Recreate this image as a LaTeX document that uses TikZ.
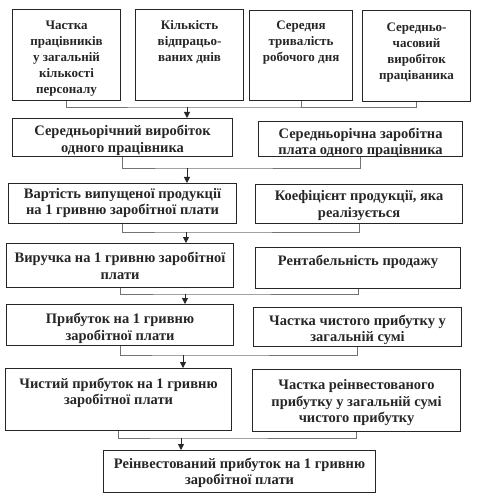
\documentclass[tikz,border=0pt]{standalone}
\usepackage{fontspec}
\setmainfont{Liberation Serif}
\usetikzlibrary{arrows.meta}
\tikzset{
  box/.style={draw=black!85, line width=1.1pt, inner sep=0pt, anchor=north west,
    font=\fontsize{14.5}{16.5}\selectfont\bfseries, text=black!85},
  topbox/.style={box, font=\fontsize{13}{16}\selectfont\bfseries},
  conn/.style={draw=black!55, line width=0.8pt},
  arr/.style={draw=black!85, line width=0.8pt, -{Triangle[length=6pt,width=6pt]}}
}
\newcommand\mybox[8][box]{\node[#1] (#2) at (#3,#4) {\parbox[c][#6pt][t]{#5pt}{\centering\vspace*{#7pt}#8}};}
\begin{document}
\begin{tikzpicture}[x=1pt,y=-1pt]
\useasboundingbox[fill=white] (0,0) rectangle (483,502);
% row 1
\mybox[topbox]{a1}{12}{9}{108}{91}{11}{Частка\\ працівників\\ у загальній\\ кількості\\ персоналу}
\mybox[topbox]{a2}{135}{9}{108}{91}{11}{Кількість\\ відпрацьо-\\ ваних днів}
\mybox[topbox]{a3}{249}{10}{103}{90}{10.5}{Середня\\ тривалість\\ робочого дня}
\mybox[topbox]{a4}{362}{10}{108}{91}{12}{Середньо-\\ часовий\\ виробіток\\ працiваника}
% row 2
\mybox{b1}{12}{118}{220}{38}{7}{Середньорічний виробіток\\ одного працівника}
\mybox{b2}{258}{121}{204}{35}{6.5}{Середньорічна заробітна\\ плата одного працівника}
% row 3
\mybox{c1}{8}{183}{228}{40}{4.5}{Вартість випущеної продукції\\ на 1 гривню заробітної плати}
\mybox{c2}{255}{184}{207}{39}{6}{Коефіцієнт продукції, яка\\ реалізується}
% row 4
\mybox{d1}{6}{243}{227}{44}{9}{Виручка на 1 гривню заробітної\\ плати}
\mybox{d2}{255}{247}{205}{41}{7.5}{Рентабельність продажу}
% row 5
\mybox{e1}{6}{304}{227}{41}{9}{Прибуток на 1 гривню\\ заробітної плати}
\mybox{e2}{253}{307}{208}{39}{7.5}{Частка чистого прибутку у\\ загальній сумі}
% row 6
\mybox{f1}{5}{368}{226}{62}{9.5}{Чистий прибуток на 1 гривню\\ заробітної плати}
\mybox{f2}{252}{369}{208}{62}{10}{Частка реінвестованого\\ прибутку у загальній сумі\\ чистого прибутку}
% bottom
\mybox{g}{103}{450}{272}{42}{7.5}{Реінвестований прибуток на 1 гривню\\ заробітної плати}
% junction points
\coordinate (j1) at (187,107);
\coordinate (j2) at (187,168);
\coordinate (j3) at (186,232);
\coordinate (j4) at (185,294);
\coordinate (j5) at (183,355);
\coordinate (j6) at (181,438);
% connectors
\draw[conn] (a1.south) |- (j1) -| (a4.south);
\draw[conn] (a3.south) -- (a3.south |- j1);
\draw[arr] (j1) -- (j1 |- b1.north);
\draw[conn] (b1.south) |- (j2) -| (b2.south);
\draw[arr] (j2) -- (j2 |- c1.north);
\draw[conn] (c1.south) |- (j3) -| (c2.south);
\draw[arr] (j3) -- (j3 |- d1.north);
\draw[conn] (d1.south) |- (j4) -| (d2.south);
\draw[arr] (j4) -- (j4 |- e1.north);
\draw[conn] (e1.south) |- (j5) -| (e2.south);
\draw[arr] (j5) -- (j5 |- f1.north);
\draw[conn] (f1.south) |- (j6) -| (f2.south);
\draw[arr] (j6) -- (j6 |- g.north);
\end{tikzpicture}
\end{document}
